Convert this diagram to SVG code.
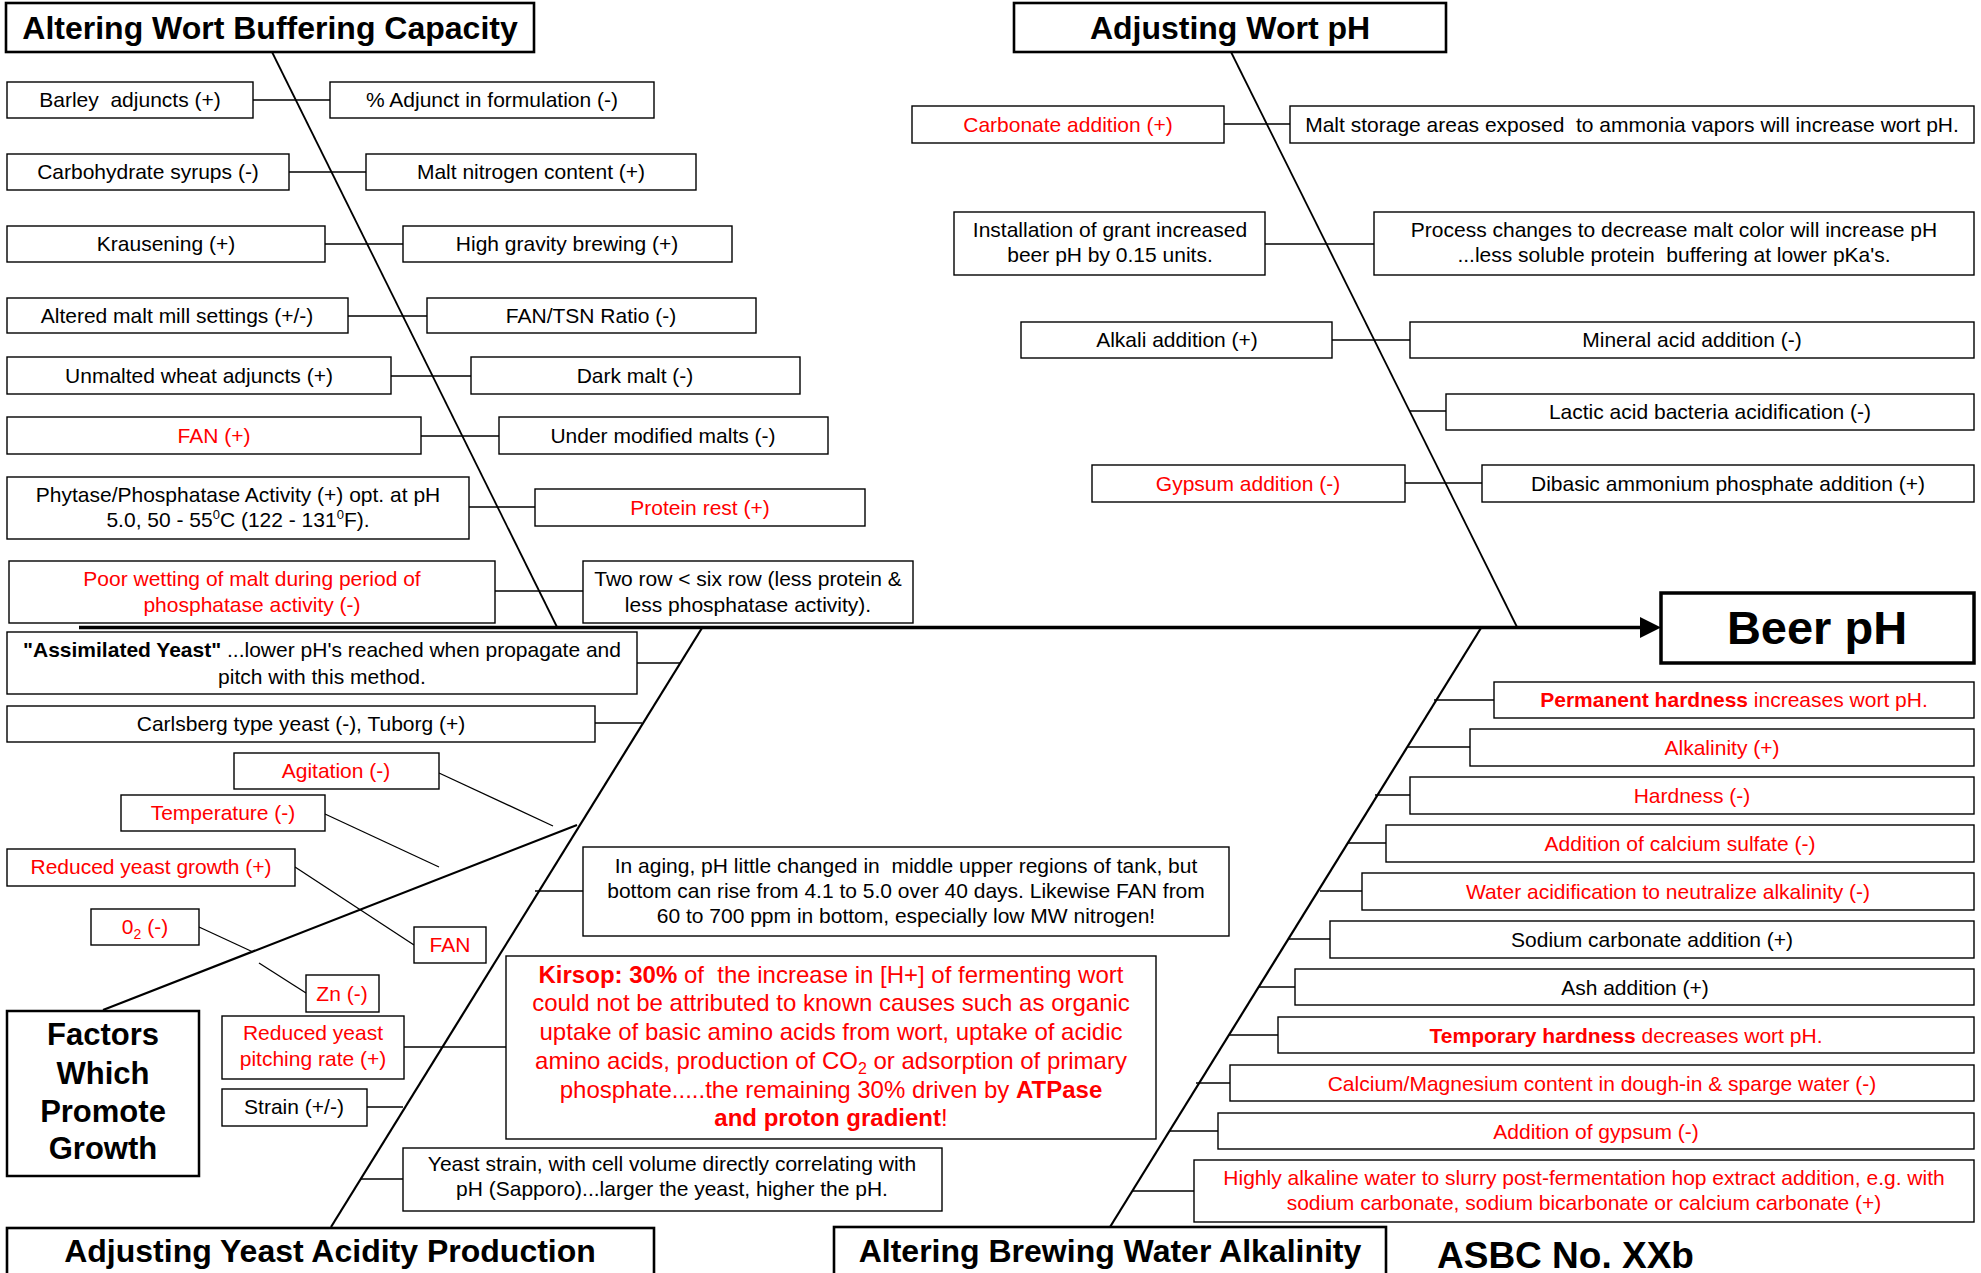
<svg xmlns="http://www.w3.org/2000/svg" width="1981" height="1273" viewBox="0 0 1981 1273">
<style>
  .bg{fill:#fff}
  .box{fill:#fff;stroke:#000;stroke-width:1.4}
  .tbox{fill:#fff;stroke:#000;stroke-width:2.6}
  .t{font-family:"Liberation Sans",Arial,sans-serif;font-size:21px;text-anchor:middle;fill:#000}
  .r{fill:#f00}
  .kt{font-family:"Liberation Sans",Arial,sans-serif;font-size:24px;text-anchor:middle;fill:#f00}
  .ttl{font-family:"Liberation Sans",Arial,sans-serif;font-size:32px;font-weight:bold;text-anchor:middle;fill:#000}
  .b{font-weight:bold}
  .conn{stroke:#000;stroke-width:1.3;fill:none}
  .bone{stroke:#000;stroke-width:1.8;fill:none}
  .bone2{stroke:#000;stroke-width:2.2;fill:none}
</style>
<rect class="bg" x="0" y="0" width="1981" height="1273"/>

<g id="connectors">
  <line x1="79" y1="627.5" x2="1643" y2="627.5" stroke="#000" stroke-width="3.5"/>
  <polygon points="1640,617 1661,627.5 1640,638" fill="#000"/>
  <line class="bone" x1="272" y1="52" x2="557" y2="627"/>
  <line class="bone" x1="1231" y1="52" x2="1517" y2="627"/>
  <line class="bone2" x1="702" y1="628" x2="331" y2="1227"/>
  <line class="bone2" x1="1481" y1="628" x2="1110" y2="1227"/>
  <line class="bone2" x1="103" y1="1010" x2="577" y2="825"/>
  <line class="conn" x1="253" y1="100" x2="330" y2="100"/>
  <line class="conn" x1="289" y1="172" x2="366" y2="172"/>
  <line class="conn" x1="325" y1="244" x2="403" y2="244"/>
  <line class="conn" x1="348" y1="316" x2="427" y2="316"/>
  <line class="conn" x1="391" y1="376" x2="471" y2="376"/>
  <line class="conn" x1="421" y1="436" x2="499" y2="436"/>
  <line class="conn" x1="469" y1="507" x2="535" y2="507"/>
  <line class="conn" x1="495" y1="591" x2="583" y2="591"/>
  <line class="conn" x1="1224" y1="124" x2="1290" y2="124"/>
  <line class="conn" x1="1265" y1="244" x2="1374" y2="244"/>
  <line class="conn" x1="1332" y1="340" x2="1410" y2="340"/>
  <line class="conn" x1="1410" y1="411" x2="1446" y2="411"/>
  <line class="conn" x1="1405" y1="483" x2="1482" y2="483"/>
  <line class="conn" x1="1434" y1="700" x2="1494" y2="700"/>
  <line class="conn" x1="1407" y1="747" x2="1470" y2="747"/>
  <line class="conn" x1="1375" y1="795" x2="1410" y2="795"/>
  <line class="conn" x1="1348" y1="843" x2="1386" y2="843"/>
  <line class="conn" x1="1320" y1="891" x2="1362" y2="891"/>
  <line class="conn" x1="1288" y1="939" x2="1330" y2="939"/>
  <line class="conn" x1="1258" y1="987" x2="1295" y2="987"/>
  <line class="conn" x1="1229" y1="1035" x2="1278" y2="1035"/>
  <line class="conn" x1="1196" y1="1083" x2="1230" y2="1083"/>
  <line class="conn" x1="1169" y1="1131" x2="1218" y2="1131"/>
  <line class="conn" x1="1132" y1="1191" x2="1194" y2="1191"/>
  <line class="conn" x1="637" y1="663" x2="680" y2="663"/>
  <line class="conn" x1="595" y1="723" x2="642" y2="723"/>
  <line class="conn" x1="439" y1="773" x2="553" y2="826"/>
  <line class="conn" x1="325" y1="814" x2="439" y2="867"/>
  <line class="conn" x1="295" y1="867" x2="414" y2="945"/>
  <line class="conn" x1="199" y1="927" x2="253" y2="952"/>
  <line class="conn" x1="259" y1="963" x2="306" y2="993"/>
  <line class="conn" x1="404" y1="1047" x2="506" y2="1047"/>
  <line class="conn" x1="367" y1="1107" x2="403" y2="1107"/>
  <line class="conn" x1="360" y1="1179" x2="403" y2="1179"/>
  <line class="conn" x1="535" y1="891" x2="583" y2="891"/>
</g>

<g id="title-wort-buffering"><rect class="tbox" x="6" y="3" width="528" height="49"/><text class="ttl" x="270" y="39">Altering Wort Buffering Capacity</text></g>
<g id="title-wort-ph"><rect class="tbox" x="1014" y="3" width="432" height="49"/><text class="ttl" x="1230" y="39">Adjusting Wort pH</text></g>
<g id="title-yeast"><rect class="tbox" x="7" y="1228" width="647" height="60"/><text class="ttl" x="330" y="1262">Adjusting Yeast Acidity Production</text></g>
<g id="title-water"><rect class="tbox" x="834" y="1227" width="552" height="60"/><text class="ttl" x="1110" y="1262">Altering Brewing Water Alkalinity</text></g>
<g id="beer-ph"><rect x="1661" y="593" width="313" height="70" fill="#fff" stroke="#000" stroke-width="3.5"/><text class="ttl" x="1817" y="644" style="font-size:47px">Beer pH</text></g>
<g id="factors"><rect x="7" y="1011" width="192" height="165" fill="#fff" stroke="#000" stroke-width="2.5"/>
  <text class="ttl" x="103" y="1045" style="font-size:31px">Factors</text>
  <text class="ttl" x="103" y="1084" style="font-size:31px">Which</text>
  <text class="ttl" x="103" y="1122" style="font-size:31px">Promote</text>
  <text class="ttl" x="103" y="1159" style="font-size:31px">Growth</text></g>
<g id="asbc"><text class="ttl" x="1437" y="1268" style="font-size:37px;text-anchor:start">ASBC No. XXb</text></g>

<g id="barley"><rect class="box" x="7" y="82" width="246" height="36"/><text class="t" x="130" y="107">Barley&#160; adjuncts (+)</text></g>
<g id="adjunct"><rect class="box" x="330" y="82" width="324" height="36"/><text class="t" x="492" y="107">% Adjunct in formulation (-)</text></g>
<g id="carbo"><rect class="box" x="7" y="154" width="282" height="36"/><text class="t" x="148" y="179">Carbohydrate syrups (-)</text></g>
<g id="maltn"><rect class="box" x="366" y="154" width="330" height="36"/><text class="t" x="531" y="179">Malt nitrogen content (+)</text></g>
<g id="kraus"><rect class="box" x="7" y="226" width="318" height="36"/><text class="t" x="166" y="251">Krausening (+)</text></g>
<g id="highgrav"><rect class="box" x="403" y="226" width="329" height="36"/><text class="t" x="567" y="251">High gravity brewing (+)</text></g>
<g id="mill"><rect class="box" x="7" y="298" width="341" height="35"/><text class="t" x="177" y="323">Altered malt mill settings (+/-)</text></g>
<g id="fantsn"><rect class="box" x="427" y="298" width="329" height="35"/><text class="t" x="591" y="323">FAN/TSN Ratio (-)</text></g>
<g id="wheat"><rect class="box" x="7" y="357" width="384" height="37"/><text class="t" x="199" y="383">Unmalted wheat adjuncts (+)</text></g>
<g id="darkmalt"><rect class="box" x="471" y="357" width="329" height="37"/><text class="t" x="635" y="383">Dark malt (-)</text></g>
<g id="fan1"><rect class="box" x="7" y="417" width="414" height="37"/><text class="t r" x="214" y="443">FAN (+)</text></g>
<g id="undermod"><rect class="box" x="499" y="417" width="329" height="37"/><text class="t" x="663" y="443">Under modified malts (-)</text></g>
<g id="phytase"><rect class="box" x="7" y="477" width="462" height="62"/>
  <text class="t" x="238" y="502">Phytase/Phosphatase Activity (+) opt. at pH</text>
  <text class="t" x="238" y="527">5.0, 50 - 55<tspan dy="-8" font-size="13">0</tspan><tspan dy="8">C (122 - 131</tspan><tspan dy="-8" font-size="13">0</tspan><tspan dy="8">F).</tspan></text></g>
<g id="protein"><rect class="box" x="535" y="489" width="330" height="37"/><text class="t r" x="700" y="515">Protein rest (+)</text></g>
<g id="wetting"><rect class="box" x="9" y="561" width="486" height="62"/>
  <text class="t r" x="252" y="586">Poor wetting of malt during period of</text>
  <text class="t r" x="252" y="612">phosphatase activity (-)</text></g>
<g id="tworow"><rect class="box" x="583" y="561" width="330" height="62"/>
  <text class="t" x="748" y="586">Two row &lt; six row (less protein &amp;</text>
  <text class="t" x="748" y="612">less phosphatase activity).</text></g>

<g id="carbonate"><rect class="box" x="912" y="106" width="312" height="37"/><text class="t r" x="1068" y="132">Carbonate addition (+)</text></g>
<g id="ammonia"><rect class="box" x="1290" y="106" width="684" height="37"/><text class="t" x="1632" y="132">Malt storage areas exposed&#160; to ammonia vapors will increase wort pH.</text></g>
<g id="grant"><rect class="box" x="954" y="212" width="311" height="63"/>
  <text class="t" x="1110" y="237">Installation of grant increased</text>
  <text class="t" x="1110" y="262">beer pH by 0.15 units.</text></g>
<g id="maltcolor"><rect class="box" x="1374" y="212" width="600" height="63"/>
  <text class="t" x="1674" y="237">Process changes to decrease malt color will increase pH</text>
  <text class="t" x="1674" y="262">...less soluble protein&#160; buffering at lower pKa's.</text></g>
<g id="alkali"><rect class="box" x="1021" y="322" width="311" height="36"/><text class="t" x="1177" y="347">Alkali addition (+)</text></g>
<g id="mineral"><rect class="box" x="1410" y="322" width="564" height="36"/><text class="t" x="1692" y="347">Mineral acid addition (-)</text></g>
<g id="lactic"><rect class="box" x="1446" y="394" width="528" height="36"/><text class="t" x="1710" y="419">Lactic acid bacteria acidification (-)</text></g>
<g id="gypsum1"><rect class="box" x="1092" y="465" width="313" height="37"/><text class="t r" x="1248" y="491">Gypsum addition (-)</text></g>
<g id="dibasic"><rect class="box" x="1482" y="465" width="492" height="37"/><text class="t" x="1728" y="491">Dibasic ammonium phosphate addition (+)</text></g>

<g id="permanent"><rect class="box" x="1494" y="682" width="480" height="36"/><text class="t r" x="1734" y="707"><tspan class="b">Permanent hardness</tspan> increases wort pH.</text></g>
<g id="alkalinity"><rect class="box" x="1470" y="729" width="504" height="37"/><text class="t r" x="1722" y="755">Alkalinity (+)</text></g>
<g id="hardness"><rect class="box" x="1410" y="777" width="564" height="37"/><text class="t r" x="1692" y="803">Hardness (-)</text></g>
<g id="casulfate"><rect class="box" x="1386" y="825" width="588" height="37"/><text class="t r" x="1680" y="851">Addition of calcium sulfate (-)</text></g>
<g id="acidif"><rect class="box" x="1362" y="873" width="612" height="37"/><text class="t r" x="1668" y="899">Water acidification to neutralize alkalinity (-)</text></g>
<g id="sodium"><rect class="box" x="1330" y="921" width="644" height="37"/><text class="t" x="1652" y="947">Sodium carbonate addition (+)</text></g>
<g id="ash"><rect class="box" x="1295" y="969" width="679" height="36"/><text class="t" x="1635" y="995">Ash addition (+)</text></g>
<g id="temporary"><rect class="box" x="1278" y="1017" width="696" height="36"/><text class="t r" x="1626" y="1043"><tspan class="b">Temporary hardness</tspan> decreases wort pH.</text></g>
<g id="camg"><rect class="box" x="1230" y="1065" width="744" height="36"/><text class="t r" x="1602" y="1091">Calcium/Magnesium content in dough-in &amp; sparge water (-)</text></g>
<g id="gypsum2"><rect class="box" x="1218" y="1113" width="756" height="36"/><text class="t r" x="1596" y="1139">Addition of gypsum (-)</text></g>
<g id="highalk"><rect class="box" x="1194" y="1160" width="780" height="62"/>
  <text class="t r" x="1584" y="1185">Highly alkaline water to slurry post-fermentation hop extract addition, e.g. with</text>
  <text class="t r" x="1584" y="1210">sodium carbonate, sodium bicarbonate or calcium carbonate (+)</text></g>

<g id="assimilated"><rect class="box" x="7" y="632" width="630" height="62"/>
  <text class="t" x="322" y="657"><tspan class="b">"Assimilated Yeast"</tspan> ...lower pH's reached when propagate and</text>
  <text class="t" x="322" y="684">pitch with this method.</text></g>
<g id="carlsberg"><rect class="box" x="7" y="706" width="588" height="36"/><text class="t" x="301" y="731">Carlsberg type yeast (-), Tuborg (+)</text></g>
<g id="agitation"><rect class="box" x="234" y="753" width="205" height="36"/><text class="t r" x="336" y="778">Agitation (-)</text></g>
<g id="temperature"><rect class="box" x="121" y="795" width="204" height="36"/><text class="t r" x="223" y="820">Temperature (-)</text></g>
<g id="redgrowth"><rect class="box" x="7" y="849" width="288" height="37"/><text class="t r" x="151" y="874">Reduced yeast growth (+)</text></g>
<g id="fan2"><rect class="box" x="414" y="927" width="72" height="36"/><text class="t r" x="450" y="952">FAN</text></g>
<g id="o2"><rect class="box" x="91" y="909" width="108" height="36"/><text class="t r" x="145" y="934">0<tspan dy="5" font-size="14">2</tspan><tspan dy="-5"> (-)</tspan></text></g>
<g id="zn"><rect class="box" x="306" y="975" width="73" height="37"/><text class="t r" x="342" y="1001">Zn (-)</text></g>
<g id="pitching"><rect class="box" x="222" y="1016" width="182" height="63"/>
  <text class="t r" x="313" y="1040">Reduced yeast</text>
  <text class="t r" x="313" y="1066">pitching rate (+)</text></g>
<g id="strain"><rect class="box" x="222" y="1089" width="145" height="37"/><text class="t" x="294" y="1114">Strain (+/-)</text></g>
<g id="yeaststrain"><rect class="box" x="403" y="1148" width="539" height="63"/>
  <text class="t" x="672" y="1171">Yeast strain, with cell volume directly correlating with</text>
  <text class="t" x="672" y="1196">pH (Sapporo)...larger the yeast, higher the pH.</text></g>
<g id="aging"><rect class="box" x="583" y="847" width="646" height="89"/>
  <text class="t" x="906" y="873">In aging, pH little changed in&#160; middle upper regions of tank, but</text>
  <text class="t" x="906" y="898">bottom can rise from 4.1 to 5.0 over 40 days. Likewise FAN from</text>
  <text class="t" x="906" y="923">60 to 700 ppm in bottom, especially low MW nitrogen!</text></g>
<g id="kirsop"><rect class="box" x="506" y="956" width="650" height="183"/>
  <text class="kt" x="831" y="983"><tspan class="b">Kirsop: 30%</tspan> of&#160; the increase in [H+] of fermenting wort</text>
  <text class="kt" x="831" y="1011">could not be attributed to known causes such as organic</text>
  <text class="kt" x="831" y="1040">uptake of basic amino acids from wort, uptake of acidic</text>
  <text class="kt" x="831" y="1069">amino acids, production of CO<tspan dy="5" font-size="16">2</tspan><tspan dy="-5"> or adsorption of primary</tspan></text>
  <text class="kt" x="831" y="1098">phosphate.....the remaining 30% driven by <tspan class="b">ATPase</tspan></text>
  <text class="kt" x="831" y="1126"><tspan class="b">and proton gradient</tspan>!</text></g>
</svg>
